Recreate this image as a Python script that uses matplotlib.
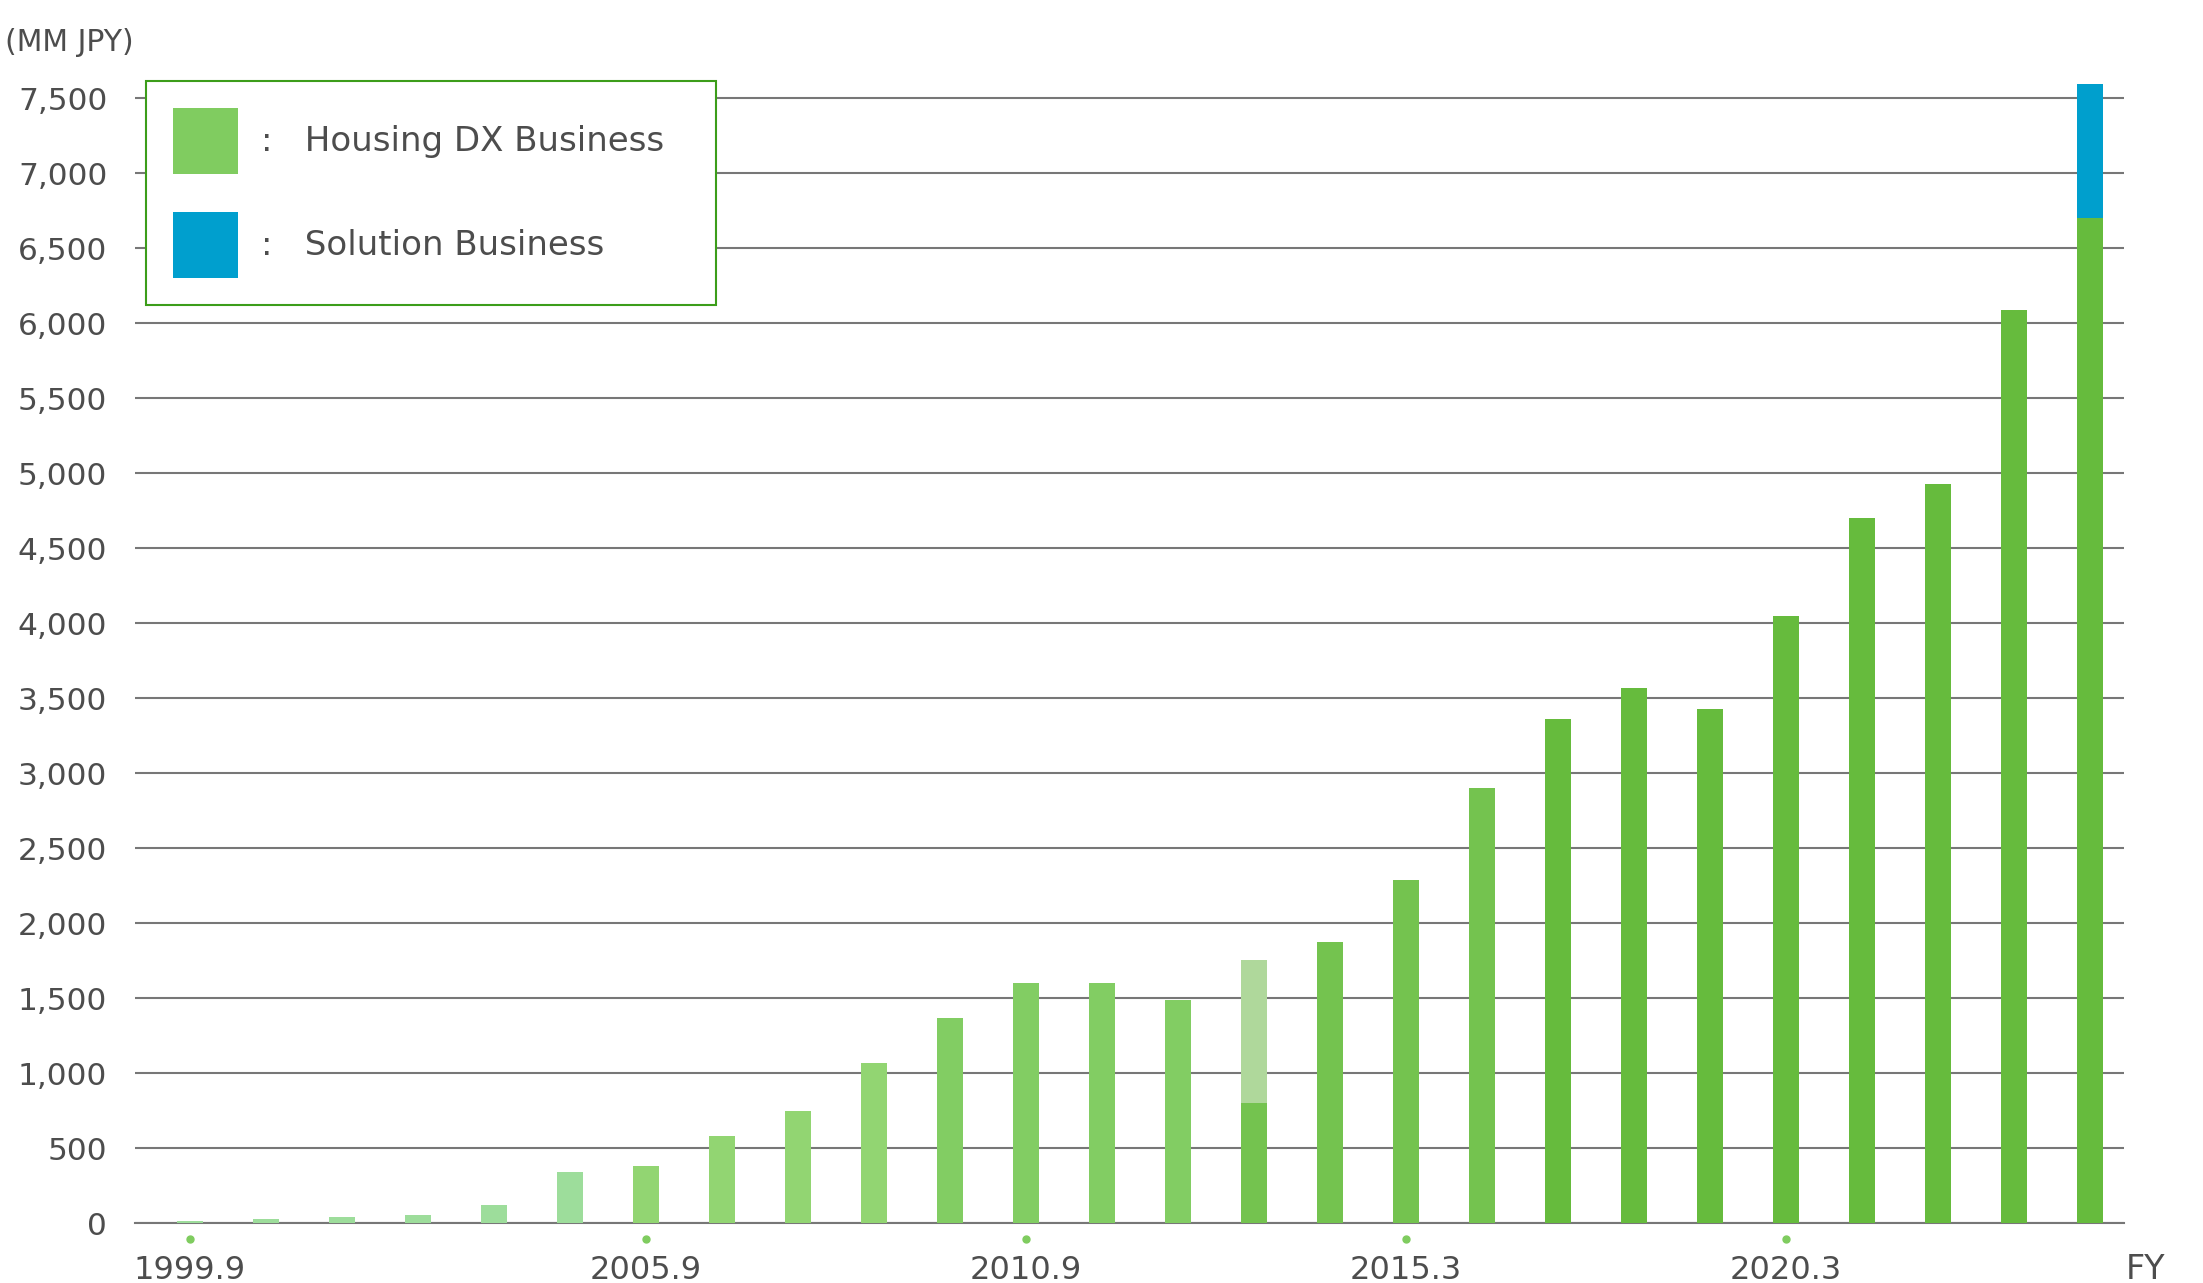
import matplotlib
matplotlib.use("Agg")
from matplotlib import pyplot as plt
from matplotlib.patches import Patch
import matplotlib.transforms as mtransforms

plt.rcParams['font.family'] = ['DejaVu Sans']

# 売上推移 (MM JPY)
housing_dx = [16, 29, 42, 56, 122, 342, 382, 582, 749, 1070, 1370, 1600, 1600, 1490,
              800, 1875, 2290, 2900, 3360, 3570, 3430, 4050, 4700, 4930, 6090, 6700]
solution = [0] * 25 + [895]
# 2014年度の参考値 (薄い部分)
overlay = [0] * 14 + [955] + [0] * 11

bar_colors = (['#9ddd9b'] * 6 + ['#92d572'] * 4 + ['#82cd63'] * 4 +
              ['#74c34f'] * 4 + ['#66bb3d'] * 8)

label_idx = [0, 6, 11, 16, 21]
label_text = ['1999.9', '2005.9', '2010.9', '2015.3', '2020.3']

yticks = list(range(0, 8000, 500))

text_color = '#4d4d4d'
grid_color = '#777777'

fig = plt.figure(figsize=(22.03, 12.83), dpi=100)
ax = fig.add_axes([0.0613, 0.0465, 0.9028, 0.8944])

x = list(range(len(housing_dx)))
ax.bar(x, housing_dx, width=0.34, color=bar_colors, zorder=3)
ax.bar(x, overlay, width=0.34, bottom=housing_dx, color='#afd89b', zorder=3)
ax.bar(x, solution, width=0.34, bottom=housing_dx, color='#009fcd', zorder=3)

ax.set_xlim(-0.72, 25.45)
ax.set_ylim(0, 7650)
ax.set_yticks(yticks)
ax.set_yticklabels([f'{v:,}' for v in yticks])
ax.yaxis.grid(True, color=grid_color, linewidth=1.5, zorder=0)
ax.tick_params(axis='y', length=0, pad=20, labelsize=22.5, labelcolor=text_color)

ax.set_xticks(label_idx)
ax.set_xticklabels(label_text)
ax.tick_params(axis='x', length=0, pad=23, labelsize=23, labelcolor=text_color)

for s in ['top', 'right', 'left']:
    ax.spines[s].set_visible(False)
ax.spines['bottom'].set_color(grid_color)
ax.spines['bottom'].set_linewidth(1.5)

# ラベルの上の緑の点
trans = mtransforms.blended_transform_factory(ax.transData, ax.transAxes)
ax.plot(label_idx, [-0.014] * len(label_idx), 'o', color='#7fcc5f', markersize=5,
        transform=trans, clip_on=False)

fig.text(0.0023, 0.967, '(MM JPY)', fontsize=21.5, color=text_color, va='center')
fig.text(0.965, 0.0105, 'FY', fontsize=24, color=text_color, va='center')

handles = [Patch(facecolor='#80cc60'), Patch(facecolor='#009fce')]
leg = fig.legend(handles, [':   Housing DX Business', ':   Solution Business'],
                 loc='upper left', bbox_to_anchor=(0.0663, 0.7369, 0.2585, 0.2),
                 mode='expand',
                 fontsize=24.5, labelcolor=text_color, frameon=True, fancybox=False,
                 edgecolor='#3c9d1a', framealpha=1, handlelength=1.9, handleheight=2.6,
                 labelspacing=1.12, borderpad=0.8, handletextpad=0.68, borderaxespad=0)
leg.get_frame().set_linewidth(1.5)

fig.savefig('out.png', dpi=100)
